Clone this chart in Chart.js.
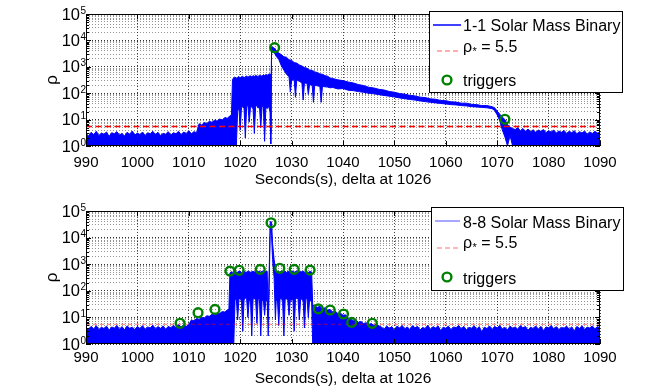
<!DOCTYPE html>
<html><head><meta charset="utf-8">
<script src="https://cdn.jsdelivr.net/npm/chart.js@4/dist/chart.umd.min.js"></script>
<style>
html,body{margin:0;padding:0;background:#fff;width:664px;height:391px;overflow:hidden}
.panel{position:absolute;left:0;width:664px}
#p1{top:0;height:195px}
#p2{top:195px;height:196px}
canvas{display:block}
</style></head><body>
<div class="panel" id="p1"><canvas id="c1" width="664" height="195"></canvas></div>
<div class="panel" id="p2"><canvas id="c2" width="664" height="196"></canvas></div>
<script>
const FONT = "'Liberation Sans', Arial, Helvetica, sans-serif";

// ---------- shared axis / label data ----------
const xTicks = [990, 1000, 1010, 1020, 1030, 1040, 1050, 1060, 1070, 1080, 1090];
const xRange = [990, 1090];
const yTickExps = [0, 1, 2, 3, 4, 5];
const xTitle = 'Seconds(s), delta at 1026';
const yTitle = 'ρ';
const threshold = 5.5;
const thresholdLabel = 'ρ* = 5.5';
const triggerLabel = 'triggers';
const floorRho = 1;

// ---------- top panel: 1-1 Solar Mass Binary ----------
const topName = '1-1 Solar Mass Binary';
const topNoiseA = [3.0, 2.4, 3.3, 2.7, 3.6, 2.5, 3.1, 2.8, 3.4, 2.3,
  3.2, 2.9, 3.5, 2.6, 3.0, 2.4, 3.3, 2.8, 3.7, 2.6,
  3.1, 2.7, 3.4, 2.5, 3.2, 2.9, 3.6, 2.7, 3.3, 2.5,
  3.0, 2.8, 3.5, 2.6, 3.2, 2.9, 3.6, 2.7, 3.4, 3.0,
  3.8, 2.9, 3.5, 3.2];                                  // 990.0 .. 1011.5 s, every 0.5 s
const topRampB = [7.0, 6.2, 7.8, 7.1, 8.6, 7.9, 9.4, 8.8, 10.5, 9.6, 12.0, 11.2, 14.0]; // 1012.0 .. 1018.0 s
const topStepT = [1018.3], topStepHi = [15], topStepLo = [1];
const topBandHi = [330, 390, 410, 360, 400, 430, 380, 420, 440, 370,
  430, 450, 400, 440, 460, 410, 470, 430, 480, 450,
  420, 490, 460, 440, 500, 470, 510, 480, 520];         // 1018.5 .. 1025.5 s, every 0.25 s
const topBandLo = [1, 1, 1, 1, 20, 30, 4, 28, 32, 26,
  2, 30, 35, 8, 28, 33, 25, 3, 30, 36,
  27, 31, 5, 29, 34, 1.5, 30, 26, 33];
const topTailT = [1025.8, 1025.95, 1026.1, 1026.5, 1027.0, 1027.5, 1028.0, 1028.5, 1029.0, 1029.5,
  1029.75, 1030.0, 1030.5, 1030.75, 1031.0, 1031.5, 1032.0, 1032.25, 1032.5, 1033.0,
  1033.25, 1033.5, 1034.0, 1034.25, 1034.5, 1035.0, 1035.5, 1035.75, 1036.0, 1036.5,
  1037.0, 1037.5, 1038.0, 1039, 1040, 1041, 1042, 1043, 1044, 1045,
  1046, 1047, 1048, 1049, 1050, 1051, 1052, 1053, 1054, 1055,
  1056, 1057, 1058, 1059, 1060, 1061, 1062, 1063, 1064, 1065,
  1066, 1067, 1068, 1069, 1069.5, 1070, 1070.5, 1071, 1071.5, 1072,
  1072.5, 1073];
const topTailHi = [540, 3, 5700, 5400, 4200, 3300, 2900, 2400, 2300, 1850,
  1800, 1750, 1450, 1420, 1380, 1180, 1080, 1000, 950, 880,
  820, 760, 720, 690, 640, 610, 540, 530, 520, 460,
  440, 380, 360, 320, 300, 265, 245, 212, 195, 168,
  158, 140, 132, 116, 109, 97, 92, 83, 79, 71,
  68, 61, 59, 53, 52, 47, 46, 42, 42, 38,
  37, 34, 34, 31, 28, 21, 16, 12.5, 10, 6.5,
  5.2, 4.6];
const topTailLo = [20, 1.2, 3200, 3800, 2500, 1900, 1100, 750, 520, 420,
  110, 300, 330, 70, 320, 280, 250, 55, 240, 240,
  90, 210, 200, 45, 200, 190, 180, 45, 180, 175,
  170, 160, 165, 145, 150, 130, 125, 115, 108, 100,
  95, 88, 82, 77, 72, 66, 62, 58, 55, 51,
  48, 45, 43, 41, 39, 37, 36, 34, 33, 31,
  30, 29, 28, 26, 22, 15, 9, 4, 2.2, 1,
  2.5, 1];
const topNoiseC = [4.2, 5.0, 3.8, 4.6, 3.6, 4.4, 3.5, 4.1, 3.3, 4.0,
  3.6, 4.2, 3.2, 3.8, 3.4, 4.0, 3.1, 3.7, 3.3, 3.9,
  3.0, 3.6, 3.2, 3.8, 2.9, 3.5, 3.1, 3.7, 2.8, 3.4,
  3.0, 3.6, 3.1, 3.3];                                  // 1073.5 .. 1090.0 s
const topTrigT = [1026.7, 1071.5];
const topTrigRho = [5300, 10.3];

// ---------- bottom panel: 8-8 Solar Mass Binary ----------
const botName = '8-8 Solar Mass Binary';
const botNoiseA = [4.2, 3.4, 4.6, 3.7, 4.9, 3.5, 4.3, 3.8, 4.7, 3.3,
  4.4, 3.9, 5.0, 3.6, 4.5, 3.4, 4.8, 3.9, 4.3, 3.5,
  4.6, 3.8, 4.9, 3.6, 4.4, 4.0, 5.1, 3.7, 4.5, 3.9,
  4.8, 3.6, 4.6, 4.1, 5.0, 4.2, 5.3, 4.4, 5.1, 4.6,
  5.4];                                                 // 990.0 .. 1010.0 s
const botRampB = [8, 7.5, 9, 8.5, 10, 9.5, 11.5, 11, 13, 12.5, 14.5, 14, 16.5, 16, 19]; // 1010.5 .. 1017.5 s
const botStepT = [1017.8], botStepHi = [20], botStepLo = [1];
const botBand1Hi = [470, 520, 500, 480, 540, 510, 500, 550, 520, 490,
  530, 540, 510, 500, 560, 530, 500, 520, 540, 510,
  560, 530, 520, 550, 500, 540, 560, 520, 530, 540];    // 1018.0 .. 1025.25 s, every 0.25 s
const botBand1Lo = [1, 1, 1, 1, 45, 50, 8, 48, 52, 40,
  3, 45, 55, 50, 10, 42, 47, 2, 48, 52,
  44, 6, 50, 46, 2, 40, 48, 12, 45, 40];
const botPeakT  = [1025.45, 1025.85, 1026.1, 1026.3, 1026.6, 1026.85];
const botPeakHi = [12, 40000, 39000, 6000, 1500, 700];
const botPeakLo = [2, 25000, 12000, 1500, 300, 8];
const botBand2Hi = [500, 540, 520, 500, 560, 530, 520, 550, 490, 540,
  520, 510, 560, 540, 500, 530, 550, 490, 520, 540,
  510, 560, 500, 530, 520, 490, 540, 520];              // 1027.0 .. 1033.75 s, every 0.25 s
const botBand2Lo = [40, 45, 5, 50, 52, 40, 2, 48, 50, 44,
  12, 46, 44, 50, 3, 46, 55, 48, 8, 45,
  50, 40, 4, 47, 52, 10, 45, 40];
const botDropT = [1033.9, 1034.1], botDropHi = [510, 30], botDropLo = [40, 1];
const botDecay = [27, 24, 26, 21, 23, 19, 20, 16, 17, 14,
  14.5, 12, 12.5, 9.5, 9.0, 7.5, 8.0, 6.6, 7.0, 5.9,
  6.3, 5.4, 5.9, 5.0, 5.6, 4.8];                        // 1034.5 .. 1047.0 s
const botNoiseC = [4.3, 3.6, 4.8, 3.9, 4.5, 3.3, 4.7, 4.0, 5.0, 3.7,
  4.4, 3.5, 4.9, 4.1, 4.6, 3.4, 4.2, 3.8, 5.1, 3.6,
  4.5, 4.0, 4.8, 3.2, 4.3, 3.9, 4.7, 3.5, 4.4, 4.1,
  5.0, 3.7, 4.6, 3.4, 4.2, 3.9, 4.9, 3.6, 4.5, 2.9,
  4.3, 3.8, 4.8, 3.5, 4.6, 4.0, 5.0, 3.7, 4.2, 3.4,
  4.7, 3.9, 4.4, 3.6, 4.9, 4.1, 4.5, 3.3, 4.3, 3.8,
  4.8, 3.6, 4.6, 3.2, 4.4, 4.0, 5.0, 3.7, 4.5, 3.5,
  4.2, 3.9, 4.7, 3.6, 4.4, 3.1, 4.6, 3.8, 4.9, 3.5,
  4.3, 4.0, 4.8, 3.7, 4.5, 4.1];                        // 1047.5 .. 1090.0 s
const botTrigT = [1008.3, 1011.8, 1015.1, 1018.0, 1019.8, 1023.9, 1026.0, 1027.7, 1030.5, 1033.6, 1035.2, 1037.5, 1040.1, 1041.7, 1045.7];
const botTrigRho = [6.0, 15, 20, 550, 590, 640, 36000, 700, 640, 600, 21, 19, 13.4, 6.5, 6.0];

// ---------- helpers ----------
function sampleTimes(t0, step, n) { const a = []; for (let i = 0; i < n; i++) a.push(+(t0 + i * step).toFixed(3)); return a; }
function buildSeries(parts) {
  const hi = [], lo = [];
  parts.forEach(p => p.t.forEach((t, i) => {
    hi.push({ x: t, y: p.hi[i] });
    lo.push({ x: t, y: Array.isArray(p.lo) ? p.lo[i] : p.lo });
  }));
  return { hi, lo };
}
const yGrid = [];
yTickExps.forEach(k => { if (k < 5) { for (let m = 1; m <= 9; m++) yGrid.push(m * Math.pow(10, k)); } else yGrid.push(Math.pow(10, k)); });
function isDecade(v) { const l = Math.log10(v); return Math.abs(l - Math.round(l)) < 1e-9; }

const topSeries = buildSeries([
  { t: sampleTimes(990, 0.5, topNoiseA.length), hi: topNoiseA, lo: floorRho },
  { t: sampleTimes(1012, 0.5, topRampB.length), hi: topRampB, lo: floorRho },
  { t: topStepT, hi: topStepHi, lo: topStepLo },
  { t: sampleTimes(1018.5, 0.25, topBandHi.length), hi: topBandHi, lo: topBandLo },
  { t: topTailT, hi: topTailHi, lo: topTailLo },
  { t: sampleTimes(1073.5, 0.5, topNoiseC.length), hi: topNoiseC, lo: floorRho }
]);
const botSeries = buildSeries([
  { t: sampleTimes(990, 0.5, botNoiseA.length), hi: botNoiseA, lo: floorRho },
  { t: sampleTimes(1010.5, 0.5, botRampB.length), hi: botRampB, lo: floorRho },
  { t: botStepT, hi: botStepHi, lo: botStepLo },
  { t: sampleTimes(1018, 0.25, botBand1Hi.length), hi: botBand1Hi, lo: botBand1Lo },
  { t: botPeakT, hi: botPeakHi, lo: botPeakLo },
  { t: sampleTimes(1027, 0.25, botBand2Hi.length), hi: botBand2Hi, lo: botBand2Lo },
  { t: botDropT, hi: botDropHi, lo: botDropLo },
  { t: sampleTimes(1034.5, 0.5, botDecay.length), hi: botDecay, lo: floorRho },
  { t: sampleTimes(1047.5, 0.5, botNoiseC.length), hi: botNoiseC, lo: floorRho }
]);

// ---------- decoration plugin: frame, inner ticks, y labels, legend ----------
const panelDecor = {
  id: 'panelDecor',
  afterDatasetsDraw(chart) {
    const { ctx, chartArea: a, scales: { x, y } } = chart;
    ctx.save();
    ctx.strokeStyle = '#000'; ctx.lineWidth = 1; ctx.setLineDash([]);
    ctx.beginPath();
    xTicks.forEach(v => {
      const px = Math.round(x.getPixelForValue(v)) + 0.5;
      ctx.moveTo(px, a.bottom); ctx.lineTo(px, a.bottom - 5);
      ctx.moveTo(px, a.top); ctx.lineTo(px, a.top + 5);
    });
    yGrid.forEach(v => {
      const py = Math.round(y.getPixelForValue(v)) + 0.5;
      const L = isDecade(v) ? 5 : 3;
      ctx.moveTo(a.left, py); ctx.lineTo(a.left + L, py);
      ctx.moveTo(a.right, py); ctx.lineTo(a.right - L, py);
    });
    ctx.stroke();
    ctx.strokeRect(Math.round(a.left) + 0.5, Math.round(a.top) + 0.5, Math.round(a.right - a.left) - 1, Math.round(a.bottom - a.top) - 1);
    // y tick labels 10^k
    ctx.fillStyle = '#000';
    yTickExps.forEach(k => {
      const py = y.getPixelForValue(Math.pow(10, k));
      ctx.font = '16.5px ' + FONT; ctx.textAlign = 'right'; ctx.textBaseline = 'middle';
      ctx.fillText('10', 80, py + 1);
      ctx.font = '10px ' + FONT; ctx.textAlign = 'left'; ctx.textBaseline = 'alphabetic';
      ctx.fillText(String(k), 80.5, py - 0.5);
    });
    ctx.restore();
  },
  afterDraw(chart, args, opts) {
    const L = opts.legend; if (!L) return;
    const { ctx } = chart; const ds = chart.data.datasets;
    ctx.save();
    ctx.fillStyle = '#fff'; ctx.fillRect(L.x, L.y, L.w, L.h);
    ctx.strokeStyle = '#000'; ctx.lineWidth = 1; ctx.strokeRect(L.x + 0.5, L.y + 0.5, L.w, L.h);
    ctx.strokeStyle = L.seriesColor; ctx.lineWidth = 1.5;
    ctx.beginPath(); ctx.moveTo(L.lineX[0], L.lineY[0]); ctx.lineTo(L.lineX[1], L.lineY[0]); ctx.stroke();
    ctx.strokeStyle = L.dashColor; ctx.lineWidth = 1; ctx.setLineDash([5, 3]);
    ctx.beginPath(); ctx.moveTo(L.dashX[0], L.lineY[1]); ctx.lineTo(L.dashX[1], L.lineY[1]); ctx.stroke();
    ctx.setLineDash([]);
    ctx.strokeStyle = '#008000'; ctx.lineWidth = 2.4;
    ctx.beginPath(); ctx.arc(L.markX, L.lineY[2], 4.4, 0, Math.PI * 2); ctx.stroke();
    ctx.fillStyle = '#000'; ctx.textAlign = 'left'; ctx.textBaseline = 'middle';
    ctx.font = '16px ' + FONT;
    ctx.fillText(ds[0].label, L.textX, L.rowY[0]);
    const lab = ds[2].label;
    const base = lab.charAt(0), star = lab.charAt(1), rest = lab.slice(2);
    let tx = L.textX;
    ctx.fillText(base, tx, L.rowY[1]); tx += ctx.measureText(base).width + 0.5;
    ctx.font = '11px ' + FONT; ctx.fillText(star, tx, L.rowY[1] + 4); tx += ctx.measureText(star).width;
    ctx.font = '16px ' + FONT; ctx.fillText(rest, tx, L.rowY[1]);
    ctx.fillText(ds[3].label, L.textX, L.rowY[2]);
    ctx.restore();
  }
};

function makePanel(id, o) {
  return new Chart(document.getElementById(id), {
    type: 'line',
    data: { datasets: [
      { label: o.name, data: o.series.hi, fill: '+1', borderColor: '#0000ff', backgroundColor: '#0000ff', borderWidth: 1, pointRadius: 0, order: 2 },
      { label: o.name + ' (lower envelope)', data: o.series.lo, fill: false, borderColor: '#0000ff', borderWidth: 1, pointRadius: 0, order: 3 },
      { label: thresholdLabel, data: xRange.map(v => ({ x: v, y: threshold })), fill: false, borderColor: o.thrColor, borderWidth: o.thrWidth, borderDash: o.thrDash, pointRadius: 0, order: 1 },
      { label: triggerLabel, data: o.trigT.map((t, i) => ({ x: t, y: o.trigRho[i] })), showLine: false, pointRadius: 4.4, pointBorderWidth: 2.4, pointBorderColor: '#008000', pointBackgroundColor: 'rgba(0,0,0,0)', order: 0 }
    ] },
    options: {
      responsive: false, animation: false, events: [],
      layout: { padding: { left: 0, right: 64, top: o.padTop, bottom: 0 } },
      plugins: { legend: { display: false }, tooltip: { enabled: false }, panelDecor: { legend: o.legend } },
      scales: {
        x: {
          type: 'linear', min: xRange[0], max: xRange[1],
          afterBuildTicks: s => { s.ticks = xTicks.map(v => ({ value: v })); },
          afterFit: s => { s.height = o.xAxisH; },
          ticks: { autoSkip: false, maxRotation: 0, padding: o.tickPad, color: '#000', font: { family: FONT, size: 15, lineHeight: 1.2 }, callback: v => String(v) },
          grid: { color: 'rgba(0,0,0,0.75)', lineWidth: 1, drawTicks: false },
          border: { display: false, dash: [1, 2] },
          title: { display: true, text: xTitle, color: '#000', font: { family: FONT, size: 15.5, lineHeight: 1.2 }, padding: { top: 0, bottom: o.titlePad } }
        },
        y: {
          type: 'logarithmic', min: 1, max: 1e5,
          afterBuildTicks: s => { s.ticks = yGrid.map(v => ({ value: v })); },
          afterFit: s => { s.width = 86; },
          ticks: { display: false },
          grid: { color: c => (c.tick && isDecade(c.tick.value)) ? 'rgba(0,0,0,0.8)' : 'rgba(0,0,0,0.42)', lineWidth: 1, drawTicks: false },
          border: { display: false, dash: [1, 2] },
          title: { display: true, text: yTitle, color: '#000', font: { family: FONT, size: 17, lineHeight: 1.2 }, padding: { top: 42, bottom: 0 } }
        }
      }
    },
    plugins: [panelDecor]
  });
}

makePanel('c1', {
  name: topName, series: topSeries, trigT: topTrigT, trigRho: topTrigRho,
  thrColor: '#ff0000', thrWidth: 1.5, thrDash: [6, 3.5],
  padTop: 14, xAxisH: 49, tickPad: 7.5, titlePad: 5.7,
  legend: { x: 429, y: 11, w: 193, h: 81, textX: 463, rowY: [27, 48, 82], lineY: [25, 51, 80],
    lineX: [433, 461], dashX: [437, 460], markX: 447, seriesColor: '#0000ff', dashColor: '#ff5a5a' }
});
makePanel('c2', {
  name: botName, series: botSeries, trigT: botTrigT, trigRho: botTrigRho,
  thrColor: 'rgba(255,0,0,0.55)', thrWidth: 1, thrDash: [4, 3],
  padTop: 16, xAxisH: 47, tickPad: 5, titlePad: 3.2,
  legend: { x: 431, y: 12, w: 192, h: 83, textX: 463, rowY: [29, 49, 85], lineY: [26, 53, 82],
    lineX: [435, 460], dashX: [437, 460], markX: 447, seriesColor: '#8a8aff', dashColor: '#ff7070' }
});
</script></body></html>
